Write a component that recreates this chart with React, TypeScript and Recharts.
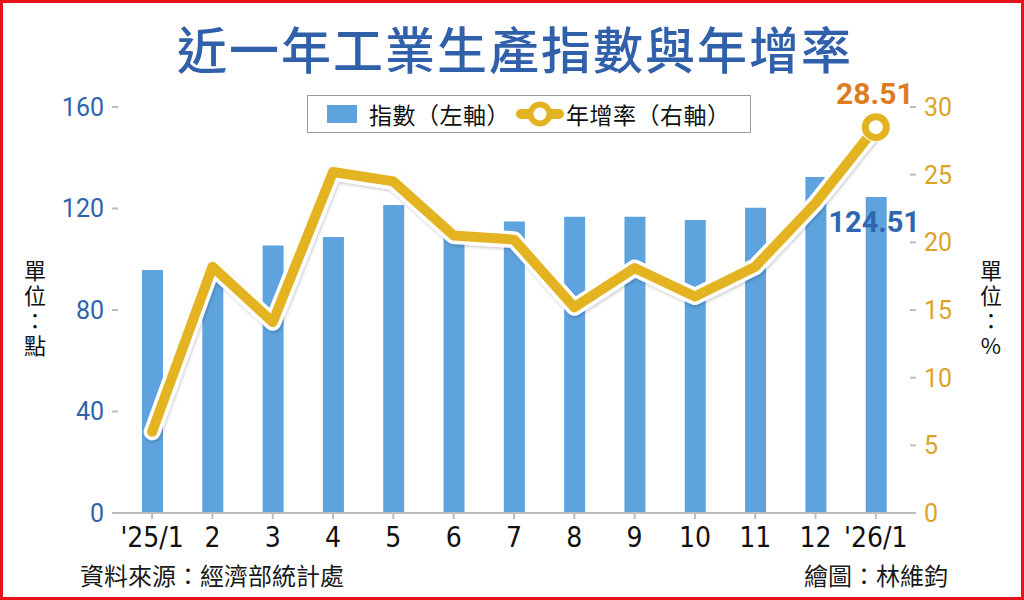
import { ComposedChart, Bar, Line, XAxis, YAxis, Legend, LabelList } from 'recharts'

const MONTHS = ["'25/1", '2', '3', '4', '5', '6', '7', '8', '9', '10', '11', '12', "'26/1"]
const INDEX = [95.8, 91, 105.4, 108.8, 121.4, 109, 114.9, 116.7, 116.7, 115.5, 120.3, 132.4, 124.51]
const GROWTH = [6.0, 18.2, 14.1, 25.2, 24.5, 20.5, 20.2, 15.2, 18.1, 16.0, 18.2, 22.9, 28.51]
const LEFT_TICKS = [0, 40, 80, 120, 160]
const RIGHT_TICKS = [0, 5, 10, 15, 20, 25, 30]

const BLUE = '#5ea3de'
const GOLD = '#e3b322'
const CJK = '"Noto Sans CJK TC", "Noto Sans", sans-serif'
const LAST = MONTHS.length - 1

const data = MONTHS.map((m, i) => ({ month: m, index: INDEX[i], growth: GROWTH[i] }))

function LegendBox() {
  return (
    <div
      style={{
        width: 444,
        height: 38,
        boxSizing: 'border-box',
        border: '1.5px solid #9a9a9a',
        background: '#fff',
        display: 'flex',
        alignItems: 'center',
        fontFamily: CJK,
        fontSize: 23,
        letterSpacing: 0.5,
        color: '#111',
      }}
    >
      <span style={{ width: 30, height: 18, background: BLUE, marginLeft: 19, marginRight: 12 }} />
      <span>指數（左軸）</span>
      <svg width={48} height={30} style={{ marginLeft: 6, marginRight: 2 }}>
        <line x1={5} y1={15} x2={43} y2={15} stroke={GOLD} strokeWidth={10} strokeLinecap="round" />
        <circle cx={24} cy={15} r={9.5} fill="#fff" stroke={GOLD} strokeWidth={6} />
      </svg>
      <span>年增率（右軸）</span>
    </div>
  )
}

function EndDot(props: any) {
  const { cx, cy, index } = props
  if (index !== LAST) return <g key={`d-${index}`} />
  return (
    <g key={`d-${index}`}>
      <circle cx={cx} cy={cy} r={15} fill="#fff" />
      <circle cx={cx} cy={cy} r={10.5} fill="#fff" stroke={GOLD} strokeWidth={7} />
    </g>
  )
}

function GrowthLabel(props: any) {
  const { x, y, index, value } = props
  if (index !== LAST) return null
  return (
    <text x={x - 1} y={y - 23} textAnchor="middle" fill="#df7b1f" fontSize={30} fontWeight={700} fontFamily="Roboto, sans-serif">
      {value}
    </text>
  )
}

function IndexLabel(props: any) {
  const { x, y, width, index, value } = props
  if (index !== LAST) return null
  return (
    <text x={x + width / 2 - 2} y={y + 35} textAnchor="middle" fill="#2f66b0" fontSize={29} fontWeight={700} fontFamily="Roboto, sans-serif">
      {value}
    </text>
  )
}

function Unit({ text, left }: { text: string; left: number }) {
  return (
    <div
      style={{
        position: 'absolute',
        left,
        top: 257,
        writingMode: 'vertical-rl',
        textOrientation: 'upright',
        fontFamily: CJK,
        fontSize: 22,
        letterSpacing: 3,
        lineHeight: '26px',
        color: '#111',
      }}
    >
      {text}
    </div>
  )
}

export default function App() {
  return (
    <div
      style={{
        position: 'absolute',
        left: 0,
        top: 0,
        width: 1024,
        height: 600,
        boxSizing: 'border-box',
        border: '3px solid #e8121b',
        background: '#fff',
        overflow: 'hidden',
      }}
    >
      <div
        style={{
          position: 'absolute',
          left: 0,
          top: 14,
          width: 1024,
          textAlign: 'center',
          fontFamily: CJK,
          fontSize: 50,
          fontWeight: 500,
          letterSpacing: 2,
          color: '#3060aa',
          lineHeight: '60px',
        }}
      >
        近一年工業生產指數與年增率
      </div>
      <div style={{ position: 'absolute', left: -3, top: -3 }}>
        <ComposedChart width={1024} height={600} data={data} margin={{ top: 107, right: 0, bottom: 0, left: 0 }}>
          <defs>
            <filter id="lineShadow" x="-5%" y="-5%" width="110%" height="120%">
              <feDropShadow dx="1" dy="2" stdDeviation="1.5" floodColor="#000" floodOpacity="0.18" />
            </filter>
          </defs>
          <XAxis
            dataKey="month"
            height={87}
            padding={{ left: 4, right: 4 }}
            axisLine={{ stroke: '#bdbdbd', strokeWidth: 2 }}
            tickLine={{ stroke: '#bdbdbd', strokeWidth: 2 }}
            tickSize={6}
            tickMargin={8}
            interval={0}
            tick={{ fill: '#111', fontSize: 28, fontFamily: '"Liberation Sans Narrow", "DejaVu Sans Condensed", sans-serif' }}
          />
          <YAxis
            yAxisId="left"
            width={118}
            domain={[0, 160]}
            ticks={LEFT_TICKS}
            axisLine={false}
            tickLine={{ stroke: '#bdbdbd', strokeWidth: 2 }}
            tickSize={6}
            tickMargin={8}
            tick={{ fill: '#2f63ae', fontSize: 25, fontFamily: 'Roboto, sans-serif' }}
          />
          <YAxis
            yAxisId="right"
            orientation="right"
            width={114}
            domain={[0, 30]}
            ticks={RIGHT_TICKS}
            axisLine={false}
            tickLine={{ stroke: '#bdbdbd', strokeWidth: 2 }}
            tickSize={6}
            tickMargin={8}
            tick={{ fill: '#dba328', fontSize: 25, fontFamily: 'Roboto, sans-serif' }}
          />
          <Legend
            layout="horizontal"
            verticalAlign="middle"
            align="center"
            content={() => <LegendBox />}
            wrapperStyle={{ top: 95, left: 307, width: 444, height: 38 }}
          />
          <Bar yAxisId="left" dataKey="index" fill={BLUE} barSize={21} isAnimationActive={false}>
            <LabelList dataKey="index" content={IndexLabel} />
          </Bar>
          <Line
            yAxisId="right"
            dataKey="growth"
            stroke="#fff"
            strokeWidth={17}
            strokeLinecap="round"
            strokeLinejoin="round"
            dot={false}
            activeDot={false}
            legendType="none"
            filter="url(#lineShadow)"
            isAnimationActive={false}
          />
          <Line
            yAxisId="right"
            dataKey="growth"
            stroke={GOLD}
            strokeWidth={10}
            strokeLinecap="round"
            strokeLinejoin="round"
            dot={EndDot}
            activeDot={false}
            isAnimationActive={false}
          >
            <LabelList dataKey="growth" content={GrowthLabel} />
          </Line>
        </ComposedChart>
      </div>
      <Unit text="單位：點" left={19} />
      <Unit text="單位：%" left={975} />
      <div style={{ position: 'absolute', left: 77, top: 557, fontFamily: CJK, fontSize: 24, color: '#1a1a1a', lineHeight: '30px' }}>
        資料來源：經濟部統計處
      </div>
      <div style={{ position: 'absolute', left: 801, top: 557, fontFamily: CJK, fontSize: 24, color: '#1a1a1a', lineHeight: '30px' }}>
        繪圖：林維鈞
      </div>
    </div>
  )
}
